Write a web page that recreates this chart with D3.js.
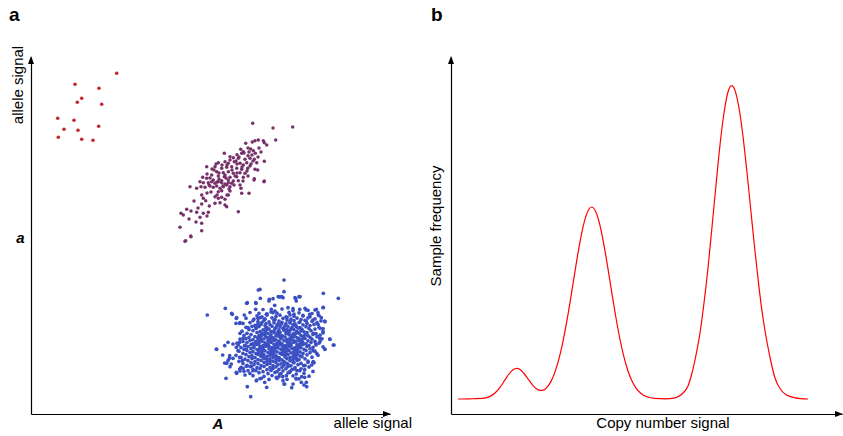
<!DOCTYPE html>
<html>
<head>
<meta charset="utf-8">
<script src="https://cdn.jsdelivr.net/npm/d3@7"></script>
<style>
  body { margin: 0; background: #fff; }
  text { font-family: "Liberation Sans", Arial, Helvetica, sans-serif; }
</style>
</head>
<body>
<svg id="chart" width="843" height="436"></svg>
<script>
// ---------- Panel a: genotype clusters (A-allele signal vs a-allele signal) ----------
const redPts = [
  [85.7,340.7],[44,329.7],[68,325.7],[50.7,315.7],[46.3,311.7],[70.7,309.7],[26.7,295.7],
  [43,293.7],[33,284.7],[47,283.7],[67.7,287.7],[27.3,276.7],[50.7,274.7],[62,273.7]
];

const purplePts = [
  [221.7,290.7],[242,286],[261.7,287],[244.7,274],[227.3,274],[224,273.3],[232.3,273.3],[221.3,272],
  [214.7,270.7],[235.7,269],[233.3,271.3],[219.7,265],[222.3,263.3],[224.3,260.7],[212.3,262.3],
  [209.7,264.7],[217,258.3],[210.7,260.7],[193.3,260.7],[206,259.3],[199,257.3],[202.3,256.3],
  [207.3,255.7],[214,254.7],[219,255.7],[223.3,254.7],[233.3,252.7],[187.3,251.3],[194,252.3],
  [197.3,250.7],[203.3,252.3],[209,250.7],[212.3,249],[215.7,251.3],[220,250],[225.7,251.3],
  [175.7,247.3],[184,247.3],[190.7,245.7],[195.7,246.7],[200.7,247.3],[205.7,245.7],[210.7,244.7],
  [216.7,245.7],[224,244.7],[185.7,242.3],[192.3,241.3],[197.3,242.3],[202.3,240.7],[209,241.3],
  [214,240.7],[180.7,239],[187.3,238],[193.3,237.3],[199,236.7],[205.7,237.3],[212.3,236.7],
  [226.7,244],[171.7,236.7],[175.7,235.7],[182.3,234],[190.7,233.3],[197.3,234],[207.3,233.3],
  [223.3,235.3],[233.3,233],[169,232.3],
  [177.3,231.3],[180.7,232.3],[184,230.7],[187.3,232.3],[190.7,231.3],[194,230],[197.3,231.3],
  [200.7,230.7],[202.3,233],[172.3,231.3],[170,227.3],[174,226.7],[179,228],[182.3,226.7],
  [185.7,228],[189,225.7],[192.3,227.3],[195.7,229],[199,227.3],[187.3,222.3],[190.7,223.3],
  [199,223],[209,229],[210,225.7],[210.7,220.7],[218,220.7],[223,234],[233,232.3],[159,227.3],
  [165.7,225.7],[170.7,219],[172.3,215.7],[174.7,213.3],[170.7,210],[184,217.3],[187.3,215.7],
  [190.7,216.7],[194,214.7],[197.3,219],[184,210.7],[189,211.3],[194,209],[195.7,207.3],
  [178.3,208],[207.3,202.3],[155.7,204.7],[150,200.7],[152.3,199],[165.7,201.7],[172.3,200.7],
  [177.3,201.7],[169,196.7],[170.7,190.7],[149,186.7],[170.7,183.3],[160,177.3],[154,172.7],
  [154.7,173.3],[159.7,178],
  [183,244],[188,241],[196,249],[201,244],[206,250],[211,247],[216,243],[204,238],[195,236],
  [186,232],[192,228],[198,225],[203,229],[179,236],[176,240],[208,257],[213,261],[218,262],
  [228,266],[230,262],[227,257],[221,259],[217,266],[205,253],[199,254],[191,249],[185,250],
  [181,245],[178,229],[188,235],[194,239],[206,241],[212,233],[217,238],[219,248],[222,253],
  [196,219],[186,219],[180,222],[176,221],[163,213],[167,206],[160,203],[158,195],[165,192],
  [176,198]
];

// Sparse outer points of the AA cluster
const blueOuter = [
  [176.3,99],[253,134],[227.3,124],[229,124.6],[292.3,120.7],[307.3,115.7],[269,117.3],[264,116.3],
  [247.3,117.3],[250.7,117.3],[238.3,114.7],[215.7,110.7],[225,110.7],[194.3,105.7],[200.7,100.7],
  [213.3,99],[205.7,96.3],[205,90.7],[209,91.3],[292.3,106.7],[294,92.3],[289,85.7],[299,74.7],
  [302.3,69],[294,64.7],[289,72.3],[185.7,64.7],[191.7,59],[198.3,55.7],[195.7,50.7],[199,47.3],
  [195,35.7],[205.7,40.7],[216.3,27.3],[219.7,17.3],[235.7,26.7],[253,30],[260.7,26.3],[273,29],
  [275.7,27.3],[225.7,34],[214,39],[209,43],[251.7,37.3],[265,35.7],[270.7,37.3],[280.7,49],
  [282.3,52.3],[285.7,60.7],[282.3,80.7],[284,104],[274,105.7],[287.3,99],[209,80.7],[207.3,69],
  [216.3,111.3],[224.7,111.3],[229.3,115.7],[242,115.3],[238,113],[201.3,99.7],[205.3,95.7],
  [224.7,104.7],[228,100.7],[240.3,104.7],[208.7,90.7],[217,86.3],[225.3,88],[227,95.7],
  [233.7,94.7],[235.3,99.7],[242,101.3],
  [253,122.3],[248.7,117],[252,116.3],[264.7,115.3],[268,117.3],[265.3,113],[243.7,108.7],
  [257,106.3],[262,105.3],[268.7,104.7],[277,103.7],[285.3,104.7],[292,106.3],[287,101.3],
  [278.7,99.7],[272,98],[290.3,96.3],[293.7,93],[282,94],[275.3,93],[287,89.7],[292,85.3],
  [185.3,65],[193.7,68.3],[197,71.7],[202,70],[205.3,66.7],[207,63.3],[198.7,58.3],[202,55.7],
  [197,53.3],[193.7,51],[200.3,50],[208.7,56.7],[211.3,53.3],[205.3,41.7],[208.7,45],[212,45.7],
  [217,43.3],[215.3,47.7],[220.3,47.7],[222,43.3],[225.3,33.3],[230.3,35.7],[233.7,31.7],
  [212,75.7],[208.7,71.7],[213.7,68.3],[215.3,65],
  [288.7,75.7],[292,81],[298.7,75],[303,69],[293.7,65],[284.7,70],[282,63.3],[277,51.7],[282,51.7],
  [272.7,48.3],[268.7,43.3],[273.7,44.3],[263.7,45],[258.7,41.7],[265.3,40],[273.7,36.7],
  [270.3,31.7],[265.3,35],[255.3,38.3],[248.7,40],[245.3,36.7],[252,33.3],[253.7,30],[262,30],
  [275.3,31.7]
];

// Dense core of the AA cluster
const blueCore = [
  [232,104.5],[244,103],[251,105],[262,103.5],[275,104.2],
  [219,101.5],[236,100.2],[240,102],[246,100.8],[258,101.6],[263,99.8],[268,101.2],[281,100.5],
  [226,98.2],[231,97.1],[236,98.9],[245,97.6],[249,98.8],[255,97.2],[259,99.1],[263,97.8],[272,98.6],[279,97.3],[288,98.4],
  [215,95.8],[223,94.9],[229,96.3],[234,95.1],[241,96.2],[244,94.6],[252,95.7],[256,96.6],[260,94.8],[266,95.9],[270,94.5],[277,96.1],[284,95.2],
  [222,93.4],[227,92.5],[233,93.8],[238,92.2],[243,93.5],[248,92.9],[256,93.9],[259,92.4],[263,93.3],[269,92.1],[274,93.7],[281,92.8],[290,93.2],
  [212,90.6],[219,91.4],[227,90.3],[231,91.7],[235,90.5],[243,91.2],[247,90.1],[251,91.6],[255,90.4],[259,91.1],[264,90.2],[268,91.5],[276,90.7],[286,91.3],
  [224,88.6],[230,89.5],[234,88.2],[239,89.3],[246,88.7],[250,89.8],[254,88.3],[262,89.4],[265,88.1],[272,89.2],[279,88.5],[283,89.6],
  [215,86.7],[221,87.6],[225,86.2],[228,87.4],[236,86.5],[241,87.7],[245,86.3],[249,87.2],[253,86.1],[257,87.5],[261,86.6],[265,87.8],[269,86.4],[275,87.3],[288,86.8],
  [218,84.6],[225,85.5],[232,84.2],[235,85.7],[238,84.8],[244,85.3],[248,84.1],[252,85.6],[256,84.5],[260,85.2],[263,84.3],[267,85.8],[271,84.7],[278,85.4],[284,84.9],
  [211,82.8],[222,83.4],[229,82.3],[235,83.6],[240,82.5],[243,83.2],[247,82.1],[253,83.5],[256,82.6],[259,83.8],[266,82.4],[270,83.1],[273,82.2],[280,83.3],[292,82.7],
  [216,80.7],[226,81.5],[231,80.3],[234,81.6],[237,80.5],[243,81.3],[246,80.2],[249,81.7],[255,80.6],[258,81.4],[262,80.1],[265,81.2],[268,80.8],[276,81.5],[285,80.4],
  [213,78.6],[220,79.4],[228,78.3],[231,79.6],[234,78.7],[240,79.2],[245,78.1],[248,79.5],[251,78.4],[258,79.3],[261,78.2],[264,79.7],[270,78.5],[274,79.1],[277,78.3],[282,79.6],[289,78.8],
  [218,76.6],[224,77.4],[227,76.2],[230,77.7],[236,76.5],[239,77.3],[242,76.1],[248,77.5],[251,76.8],[254,77.2],[260,76.4],[263,77.6],[266,76.3],[272,77.4],[279,76.7],[286,77.3],
  [209,74.8],[215,75.3],[222,74.4],[227,75.6],[230,74.3],[233,75.2],[239,74.7],[242,75.8],[245,74.2],[250,75.4],[256,74.6],[259,75.7],[262,74.1],[268,75.3],[271,74.5],[274,75.6],[281,74.8],[291,75.2],
  [212,72.6],[219,73.4],[225,72.3],[228,73.7],[231,72.5],[237,73.3],[240,72.1],[243,73.6],[248,72.8],[253,73.4],[256,72.2],[259,73.5],[265,72.7],[268,73.8],[271,72.4],[277,73.2],[284,72.6],
  [206,70.8],[216,71.4],[222,70.3],[225,71.6],[228,70.5],[234,71.2],[237,70.1],[240,71.7],[246,70.6],[249,71.3],[251,70.2],[257,71.5],[260,70.4],[263,71.8],[269,70.7],[272,71.3],[275,70.2],[280,71.6],[288,70.9],
  [214,68.7],[220,69.4],[223,68.2],[226,69.6],[232,68.5],[235,69.3],[238,68.1],[243,69.7],[246,68.6],[249,69.2],[254,68.3],[257,69.5],[260,68.8],[266,69.4],[269,68.2],[272,69.6],[278,68.5],[285,69.1],
  [210,66.6],[217,67.5],[223,66.3],[229,67.4],[232,66.2],[235,67.7],[241,66.5],[244,67.3],[247,66.1],[252,67.6],[255,66.8],[258,67.2],[264,66.4],[267,67.6],[270,66.3],[276,67.5],[282,66.7],[292,67.2],
  [213,64.7],[220,65.3],[226,64.4],[229,65.8],[232,64.6],[238,65.2],[241,64.1],[244,65.5],[250,64.8],[253,65.4],[256,64.3],[261,65.6],[264,64.5],[267,65.3],[273,64.7],[279,65.2],
  [208,62.8],[216,63.4],[222,62.3],[228,63.6],[231,62.5],[234,63.2],[240,62.7],[243,63.8],[246,62.2],[252,63.5],[255,62.4],[258,63.3],[263,62.6],[266,63.7],[269,62.1],[275,63.4],[284,62.8],
  [212,60.6],[219,61.5],[225,60.4],[228,61.7],[231,60.3],[237,61.3],[240,60.2],[243,61.6],[249,60.8],[252,61.4],[255,60.1],[260,61.2],[263,60.5],[266,61.6],[272,60.7],[279,61.3],
  [205,58.7],[215,59.4],[221,58.3],[227,59.6],[230,58.5],[233,59.2],[239,58.8],[242,59.7],[245,58.2],[251,59.5],[254,58.6],[257,59.3],[263,58.4],[266,59.6],[269,58.1],[276,59.2],[287,58.8],
  [210,56.6],[218,57.3],[224,56.4],[230,57.7],[233,56.2],[236,57.4],[242,56.7],[245,57.6],[248,56.3],[254,57.2],[259,56.5],[262,57.8],[265,56.6],[271,57.3],[281,56.8],
  [214,54.8],[221,55.4],[227,54.3],[233,55.6],[236,54.5],[239,55.2],[245,54.7],[248,55.8],[251,54.2],[256,55.3],[262,54.6],[265,55.5],[268,54.4],[274,55.2],
  [208,52.7],[217,53.4],[224,52.3],[230,53.6],[236,52.5],[239,53.2],[242,52.8],[248,53.5],[253,52.4],[259,53.3],[262,52.1],[266,53.6],[277,52.8],
  [212,50.6],[220,51.3],[227,50.4],[233,51.7],[239,50.5],[245,51.4],[250,50.2],[253,51.6],[256,50.7],[263,51.2],[270,50.6],[283,51.3],
  [216,48.7],[223,49.4],[230,48.3],[236,49.6],[242,48.5],[247,49.2],[253,48.8],[257,49.5],[260,48.2],[267,49.3],[274,48.6],
  [210,46.6],[219,47.4],[226,46.3],[233,47.6],[239,46.5],[245,47.2],[251,46.8],[257,47.5],[264,46.4],[278,47.1],
  [222,44.7],[229,45.5],[236,44.3],[242,45.6],[248,44.6],[255,45.3],[261,44.4],[270,45.2],
  [213,42.8],[225,43.4],[232,42.3],[240,43.6],[246,42.5],[252,43.2],[259,42.7],[266,43.5],[282,42.6],
  [219,40.6],[228,41.3],[237,40.4],[244,41.6],[250,40.5],[257,41.2],[273,40.8],
  [222,38.3],[233,37.6],[241,38.5],[248,37.4],[262,38.2],[278,37.8],
  [229,35.4],[238,34.6],[246,35.5],[256,34.7],[268,35.2]
];

// ---------- Panel b: copy number signal distribution ----------
const copyCurve = [
  [7,15],[19,15.2],[33,15.8],[39,17.6],[44,21],[49,26.7],[54,34.1],[58,40],[62,44.3],[65.7,45.7],
  [69,44.6],[73,40.5],[77,35.2],[81,29.7],[85,25.5],[89,23.6],[92.5,23.9],[96,26.7],[100,32.6],
  [104,42.1],[108,55.3],[112,72.7],[116,93.8],[120,117.7],[124,142.7],[128,166.7],[132,186.9],
  [136,200.9],[140.7,207],[145,201.8],[149,188.6],[153,168.7],[157,145.2],[161,120.2],[165,96],
  [169,74.5],[173,56.8],[177,43],[181,32.9],[185,25.9],[190,20.5],[196,17.2],[204,15.6],[214,15.2],
  [224,16.2],[231,20],[237,28],[241,41],[245,59],[249,81],[253,111],[257,146],[261,187],[265,229],
  [269,269],[273,301],[277,322],[280.7,328.3],[284,323.6],[288,306],[292,277.5],[296,241.5],
  [300,202],[304,162.7],[308,126.6],[312,96],[316,72],[320,52],[324,36],[329,25.5],[335,19.2],
  [344,16.2],[357,15]
];

const panelLabels = ["a", "b"];
const axisTitles = { aX: "allele signal", aY: "allele signal", bX: "Copy number signal", bY: "Sample frequency" };
const alleleMarks = { x: "A", y: "a" };

const colors = { red: "#c4262b", purple: "#76306a", blue: "#3a4fc2", curve: "#ff0000" };

const svg = d3.select("#chart");

// Scales
const xA = d3.scaleLinear().domain([0, 359]).range([31, 390]);
const yA = d3.scaleLinear().domain([0, 357]).range([414, 57]);
const xB = d3.scaleLinear().domain([0, 391]).range([451, 842]);
const yB = d3.scaleLinear().domain([0, 357]).range([414, 57]);

// Bare axes (no ticks) with arrowheads
function drawAxes(xs, ys) {
  const gx = svg.append("g").attr("transform", `translate(0,${ys.range()[0]})`)
    .call(d3.axisBottom(xs).tickValues([]).tickSizeOuter(0));
  const gy = svg.append("g").attr("transform", `translate(${xs.range()[0]},0)`)
    .call(d3.axisLeft(ys).tickValues([]).tickSizeOuter(0));
  [gx, gy].forEach(g => g.select(".domain").attr("stroke", "#000").attr("stroke-width", 1.2));
  const x0 = xs.range()[0], x1 = xs.range()[1], y0 = ys.range()[0], y1 = ys.range()[1];
  svg.append("path").attr("d", `M${x0},${y1 - 1} L${x0 - 3},${y1 + 7} L${x0 + 3},${y1 + 7} Z`).attr("fill", "#000");
  svg.append("path").attr("d", `M${x1 + 1},${y0} L${x1 - 7},${y0 - 3} L${x1 - 7},${y0 + 3} Z`).attr("fill", "#000");
}
drawAxes(xA, yA);
drawAxes(xB, yB);

// Scatter points
function dots(data, color, r) {
  svg.append("g").selectAll("circle").data(data).join("circle")
    .attr("cx", d => xA(d[0])).attr("cy", d => yA(d[1])).attr("r", r).attr("fill", color);
}
dots(blueOuter.concat(blueCore), colors.blue, 1.85);
dots(purplePts, colors.purple, 1.75);
dots(redPts, colors.red, 1.8);

// Distribution curve
const line = d3.line().x(d => xB(d[0])).y(d => yB(d[1])).curve(d3.curveMonotoneX);
svg.append("path").datum(copyCurve).attr("d", line)
  .attr("fill", "none").attr("stroke", colors.curve).attr("stroke-width", 1.2);

// Panel letters
svg.append("text").attr("x", 9).attr("y", 21).attr("font-size", 19).attr("font-weight", "bold").text(panelLabels[0]);
svg.append("text").attr("x", 431).attr("y", 21).attr("font-size", 19).attr("font-weight", "bold").text(panelLabels[1]);

// Axis titles
svg.append("text").attr("transform", "translate(23,85) rotate(-90)").attr("text-anchor", "middle")
  .attr("font-size", 15).text(axisTitles.aY);
svg.append("text").attr("x", 412).attr("y", 428).attr("text-anchor", "end")
  .attr("font-size", 15).text(axisTitles.aX);
svg.append("text").attr("transform", "translate(441,226) rotate(-90)").attr("text-anchor", "middle")
  .attr("font-size", 15).text(axisTitles.bY);
svg.append("text").attr("x", 663).attr("y", 428).attr("text-anchor", "middle")
  .attr("font-size", 15).text(axisTitles.bX);

// Allele markers
svg.append("text").attr("x", 218).attr("y", 428.5).attr("text-anchor", "middle")
  .attr("font-size", 15).attr("font-weight", "bold").attr("font-style", "italic").text(alleleMarks.x);
svg.append("text").attr("x", 20.5).attr("y", 242.5).attr("text-anchor", "middle")
  .attr("font-size", 15).attr("font-weight", "bold").attr("font-style", "italic").text(alleleMarks.y);
</script>
</body>
</html>
